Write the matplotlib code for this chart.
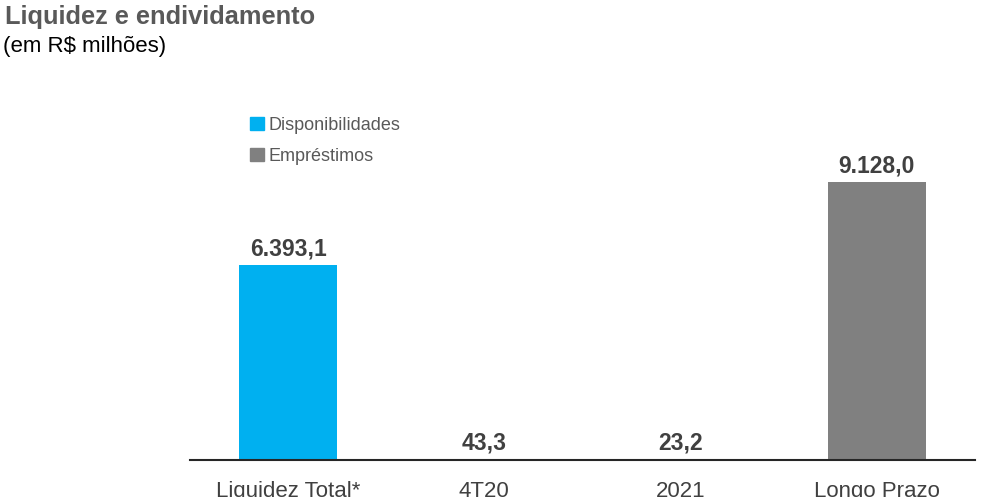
import matplotlib

matplotlib.use("Agg")

import matplotlib.pyplot as plt
from matplotlib.patches import Patch

categories = ["Liquidez Total*", "4T20", "2021", "Longo Prazo"]
values = [6393.1, 43.3, 23.2, 9128.0]
value_labels = ["6.393,1", "43,3", "23,2", "9.128,0"]
series = ["Disponibilidades", "Empréstimos", "Empréstimos", "Empréstimos"]

BLUE = "#00B0F0"
GRAY = "#808080"
colors = [BLUE, "#BFBFBF", "#BFBFBF", GRAY]

plt.rcParams["font.family"] = ["Liberation Sans", "DejaVu Sans"]

fig = plt.figure(figsize=(9.95, 4.97), dpi=100)
ax = fig.add_axes([190 / 995, 1 - 460 / 497, 785 / 995, 360 / 497])

x = range(len(categories))
bars = ax.bar(x, values, width=0.5, color=colors)
for i, (v, lab) in enumerate(zip(values, value_labels)):
    ax.text(i, v + 150, lab, ha="center", va="bottom", fontsize=16.5,
            fontweight="bold", color="#404040")

ax.set_xlim(-0.5, 3.5)
ax.set_ylim(0, 11820)
ax.set_xticks(list(x))
ax.set_xticklabels(categories, fontsize=16, color="#404040")
ax.tick_params(axis="x", length=0, pad=15)
ax.set_yticks([])
for side in ["left", "right", "top"]:
    ax.spines[side].set_visible(False)
ax.spines["bottom"].set_color("#262626")
ax.spines["bottom"].set_linewidth(1.5)

handles = [Patch(color=BLUE), Patch(color=GRAY)]
fig.legend(handles, ["Disponibilidades", "Empréstimos"], loc="upper left",
           bbox_to_anchor=(250 / 995, 1 - 117 / 497), frameon=False,
           fontsize=13, handlelength=0.75, handleheight=0.75,
           handletextpad=0.3, labelspacing=0.75, labelcolor="#595959",
           borderaxespad=0, borderpad=0)

fig.text(5 / 995, 1 - 5 / 497, "Liquidez e endividamento", ha="left", va="top",
         fontsize=18.3, fontweight="bold", color="#595959")
fig.text(3 / 995, 1 - 36 / 497, "(em R$ milhões)", ha="left", va="top",
         fontsize=16, color="black")

fig.savefig("out.png", dpi=100)
